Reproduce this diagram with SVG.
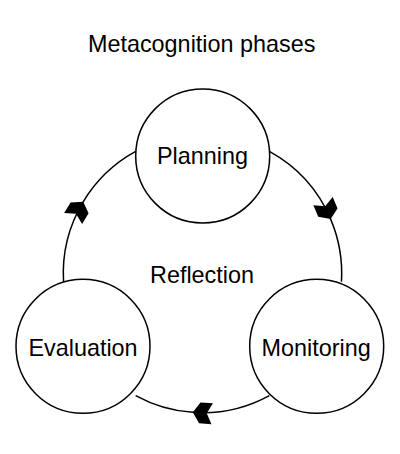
<svg xmlns="http://www.w3.org/2000/svg" width="400" height="454" viewBox="0 0 400 454">
<style>
.node{fill:#fff;stroke:#000;stroke-width:1.5}
.edge{fill:none;stroke:#000;stroke-width:1.5;marker-mid:url(#arr)}
text{font-family:"Liberation Sans",Arial,sans-serif;font-size:23.4px;fill:#000;text-anchor:middle}
</style>
<defs>
<marker id="arr" markerUnits="userSpaceOnUse" viewBox="-22 -12 24 24" markerWidth="24" markerHeight="24" refX="0" refY="0" orient="auto" overflow="visible">
<path d="M0,0 L-7,-10.5 L-19.5,-10.5 L-14,0 L-19.5,10.5 L-7,10.5 Z" fill="#000" stroke="none"/>
</marker>
</defs>
<rect width="400" height="454" fill="#fff"/>
<text id="title" x="201.7" y="51.7">Metacognition phases</text>
<g id="connectors">
<path class="edge" d="M269.35,151.41 A139.2,139.2 0 0 1 330.64,219.11 A139.2,139.2 0 0 1 341.45,281.75"/>
<path class="edge" d="M269.35,395.59 A139.2,139.2 0 0 1 192.79,412.37 A139.2,139.2 0 0 1 135.65,395.59"/>
<path class="edge" d="M63.55,281.75 A139.2,139.2 0 0 1 83.18,201.81 A139.2,139.2 0 0 1 135.65,151.41"/>
</g>
<text id="center-label" x="202" y="283.3">Reflection</text>
<g id="planning">
<circle class="node" cx="202.7" cy="156" r="67"/>
<text x="202.5" y="164.3">Planning</text>
</g>
<g id="monitoring">
<circle class="node" cx="316.7" cy="346.3" r="67"/>
<text x="316.2" y="355.7">Monitoring</text>
</g>
<g id="evaluation">
<circle class="node" cx="83" cy="346.3" r="67"/>
<text x="83" y="355.7">Evaluation</text>
</g>
</svg>
